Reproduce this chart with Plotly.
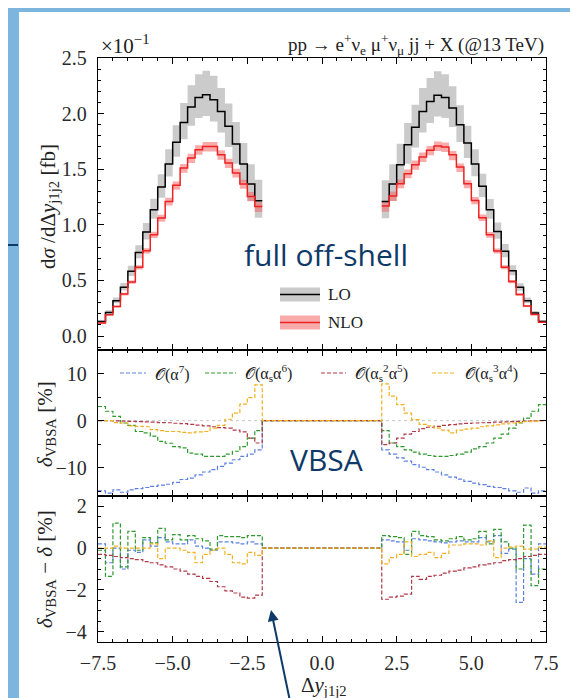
import numpy as np
import plotly.graph_objects as go
from plotly.subplots import make_subplots

# ---------------- data ----------------
BIN_WIDTH = 0.25
LEFT_START, LEFT_END = -7.5, -2.0
RIGHT_START, RIGHT_END = 2.0, 7.5
X_TICKS = [-7.5, -5.0, -2.5, 0.0, 2.5, 5.0, 7.5]

# top panel: d sigma / d Delta y  [x 1e-1 fb]
LO_L = [0.132, 0.213, 0.318, 0.440, 0.582, 0.752, 0.935, 1.136, 1.340, 1.547, 1.742,
        1.920, 2.060, 2.146, 2.170, 2.125, 2.020, 1.886, 1.727, 1.547, 1.367, 1.217]
LO_L_UP = [0.143, 0.232, 0.346, 0.478, 0.632, 0.817, 1.016, 1.234, 1.456, 1.680, 1.895,
           2.095, 2.255, 2.355, 2.385, 2.340, 2.230, 2.090, 1.925, 1.735, 1.545, 1.405]
LO_L_DN = [0.123, 0.198, 0.296, 0.409, 0.541, 0.699, 0.868, 1.054, 1.243, 1.435, 1.612,
           1.770, 1.890, 1.960, 1.978, 1.930, 1.830, 1.700, 1.550, 1.380, 1.215, 1.065]
LO_R = [1.211, 1.367, 1.540, 1.720, 1.877, 2.020, 2.110, 2.165, 2.146, 2.050, 1.900,
        1.736, 1.547, 1.346, 1.136, 0.941, 0.762, 0.587, 0.438, 0.318, 0.207, 0.132]
LO_R_UP = [1.400, 1.545, 1.730, 1.915, 2.080, 2.230, 2.320, 2.380, 2.355, 2.245, 2.075,
           1.890, 1.680, 1.460, 1.233, 1.022, 0.827, 0.637, 0.476, 0.346, 0.226, 0.144]
LO_R_DN = [1.060, 1.215, 1.375, 1.550, 1.695, 1.830, 1.915, 1.975, 1.960, 1.880, 1.745,
           1.600, 1.437, 1.250, 1.055, 0.875, 0.708, 0.546, 0.408, 0.296, 0.193, 0.123]

NLO_L = [0.117, 0.192, 0.267, 0.378, 0.486, 0.618, 0.767, 0.911, 1.061, 1.211, 1.355,
         1.511, 1.600, 1.675, 1.705, 1.705, 1.630, 1.556, 1.466, 1.367, 1.256, 1.166]
NLO_L_UP = [0.121, 0.198, 0.275, 0.389, 0.500, 0.636, 0.789, 0.937, 1.090, 1.243, 1.390,
            1.548, 1.640, 1.715, 1.745, 1.745, 1.670, 1.595, 1.505, 1.405, 1.295, 1.205]
NLO_L_DN = [0.112, 0.185, 0.258, 0.365, 0.470, 0.598, 0.742, 0.882, 1.028, 1.175, 1.315,
            1.468, 1.555, 1.630, 1.660, 1.660, 1.585, 1.512, 1.425, 1.325, 1.212, 1.115]
NLO_R = [1.170, 1.260, 1.370, 1.460, 1.540, 1.610, 1.670, 1.710, 1.700, 1.630, 1.520,
         1.370, 1.220, 1.065, 0.910, 0.765, 0.620, 0.490, 0.375, 0.270, 0.195, 0.125]
NLO_R_UP = [1.210, 1.300, 1.408, 1.497, 1.578, 1.650, 1.710, 1.750, 1.740, 1.665, 1.552,
            1.402, 1.250, 1.092, 0.935, 0.787, 0.638, 0.504, 0.386, 0.278, 0.201, 0.129]
NLO_R_DN = [1.118, 1.215, 1.328, 1.418, 1.495, 1.565, 1.625, 1.665, 1.655, 1.580, 1.475,
            1.330, 1.185, 1.034, 0.883, 0.742, 0.601, 0.475, 0.363, 0.261, 0.188, 0.120]

# middle panel: delta_VBSA [%]   (gap bin -2..2 is zero)
GAP = [0.0]
D_A7_L = [-14.9, -15.4, -14.7, -15.2, -14.7, -14.45, -14.2, -13.95, -13.7, -13.5, -13.1,
          -12.5, -12.2, -11.5, -10.9, -10.4, -9.7, -9.0, -8.3, -7.6, -7.1, -6.2]
D_A7_R = [-6.2, -7.1, -7.9, -8.6, -9.35, -9.9, -10.4, -10.9, -11.5, -12.0, -12.4,
          -12.9, -13.25, -13.6, -13.95, -14.2, -14.45, -14.9, -15.2, -14.3, -15.4, -14.9]
D_AS_L = [3.0, 2.0, 0.9, -0.5, -1.0, -2.3, -2.6, -3.3, -4.4, -4.8, -5.5,
          -5.8, -6.9, -7.1, -7.6, -7.6, -7.6, -7.1, -6.5, -5.5, -3.7, -2.1]
D_AS_R = [-2.1, -4.75, -5.5, -6.2, -6.7, -7.1, -7.4, -7.6, -7.6, -7.4, -7.1,
          -6.7, -6.0, -5.5, -4.75, -3.7, -2.85, -1.6, -0.5, 0.55, 2.0, 3.4]
D_AS2_L = [0.0, 0.0, -0.05, -0.1, -0.15, -0.2, -0.25, -0.3, -0.4, -0.45, -0.55,
           -0.65, -0.8, -0.95, -1.1, -1.3, -1.5, -1.6, -2.0, -2.4, -3.7, -4.75]
D_AS2_R = [-5.1, -4.75, -3.7, -2.85, -2.3, -1.7, -1.4, -1.2, -1.0, -0.86, -0.7,
           -0.6, -0.5, -0.45, -0.4, -0.3, -0.25, -0.2, -0.15, -0.1, -0.05, 0.0]
D_AS3_L = [0.0, 0.0, -0.4, -0.5, -1.1, -1.2, -1.3, -1.9, -2.1, -2.3, -2.3,
           -2.5, -2.6, -2.4, -2.3, -1.6, -1.0, 0.3, 1.6, 3.5, 4.9, 7.6]
D_AS3_R = [7.8, 5.2, 3.4, 1.6, 0.2, -0.8, -1.1, -1.6, -2.0, -2.6, -2.0,
           -1.8, -1.6, -1.3, -1.1, -0.9, -0.7, -0.5, -0.4, -0.2, -0.1, 0.0]

# bottom panel: delta_VBSA - delta [%]
R_A7_L = [0.2, -0.7, 0.0, -1.0, -0.1, -0.2, 0.4, 0.1, 0.5, 0.3, 0.2,
          0.2, 0.4, 0.1, 0.0, -0.1, 0.3, 0.3, 0.25, 0.2, 0.3, 0.2]
R_A7_R = [0.4, 0.35, 0.3, -0.1, 0.45, 0.4, 0.35, 0.3, 0.25, 0.3, 0.35,
          0.3, 0.3, 0.5, 0.3, 0.6, -0.25, -0.05, -2.6, -0.5, -1.25, 0.2]
R_AS_L = [-0.1, -1.35, 1.2, -0.9, 0.8, -0.1, 0.5, 0.25, 0.95, 0.4, 0.65,
          0.4, 0.6, 0.45, 0.35, -0.05, 0.6, 0.55, 0.55, 0.5, 0.6, 0.6]
R_AS_R = [0.6, 0.55, 0.5, -0.3, 0.8, 0.6, 0.55, 0.4, 0.35, 0.45, 0.55,
          0.4, 0.45, 0.8, 0.2, 0.9, 0.3, 0.0, -1.0, 1.1, -1.8, -1.0]
R_AS2_L = [-0.3, -0.35, -0.4, -0.45, -0.5, -0.55, -0.65, -0.7, -0.8, -0.9, -1.0,
           -1.1, -1.25, -1.35, -1.45, -1.6, -1.85, -2.05, -2.15, -2.35, -2.4, -2.25]
R_AS2_R = [-2.45, -2.35, -2.3, -2.2, -1.35, -1.5, -1.35, -1.3, -1.2, -1.1, -1.05,
           -0.95, -0.9, -0.8, -0.75, -0.7, -0.6, -0.55, -0.5, -0.4, -0.35, -0.3]
R_AS3_L = [0.0, 0.0, 0.1, 0.0, 0.0, 0.0, 0.0, 0.2, -0.5, 0.0, 0.0,
           -0.1, -0.2, -0.7, -0.3, -0.1, 0.0, -0.3, -0.7, -0.75, -0.2, -0.35]
R_AS3_R = [-0.75, -0.45, -0.3, 0.3, -0.4, -0.3, -0.2, -0.45, -0.25, 0.15, 0.15,
           0.2, 0.2, 0.15, 0.35, -0.45, 0.0, 0.05, 0.1, -0.05, -0.05, 0.05]

ORDER_LABELS = ["𝒪(α<sup>7</sup>)", "𝒪(α<sub>s</sub>α<sup>6</sup>)",
                "𝒪(α<sub>s</sub><sup>2</sup>α<sup>5</sup>)", "𝒪(α<sub>s</sub><sup>3</sup>α<sup>4</sup>)"]

# ---------------- style ----------------
SERIF = "Liberation Serif, DejaVu Serif, serif"
SANS = "Open Sans, Noto Sans, sans-serif"
NAVY = "#0f3a68"
SLIDE_BLUE = "#7cb5de"
ORDER_COLORS = ["#5b80e0", "#2e9a2e", "#b03a48", "#f2b01e"]
DASH = "4px,2px"

W, H = 578, 698
ML, MR, MT, MB = 90, 40, 50, 64
PW, PH = W - ML - MR, H - MT - MB


def PX(x):
    return (x - ML) / PW


def PY(y):
    return (H - MB - y) / PH


left_edges = np.round(np.arange(LEFT_START, LEFT_END + BIN_WIDTH / 2, BIN_WIDTH), 4)
right_edges = np.round(np.arange(RIGHT_START, RIGHT_END + BIN_WIDTH / 2, BIN_WIDTH), 4)
full_edges = np.concatenate([left_edges, right_edges])

fig = make_subplots(rows=3, cols=1, shared_xaxes=True, vertical_spacing=0.0,
                    row_heights=[0.5, 0.25, 0.25])


def add_step(edges, vals, row, **kw):
    x = list(edges)
    y = list(vals) + [vals[-1]]
    fig.add_trace(go.Scatter(x=x, y=y, mode="lines", line_shape="hv",
                             showlegend=False, hoverinfo="skip", **kw), row=row, col=1)


def add_band(edges, lo, hi, color, row):
    add_step(edges, lo, row, line=dict(width=0, color=color))
    add_step(edges, hi, row, line=dict(width=0, color=color), fill="tonexty", fillcolor=color)


GRAY_BAND = "#cbcbcb"
RED_BAND = "rgba(244,100,100,0.55)"

add_band(left_edges, LO_L_DN, LO_L_UP, GRAY_BAND, 1)
add_band(right_edges, LO_R_DN, LO_R_UP, GRAY_BAND, 1)
add_band(left_edges, NLO_L_DN, NLO_L_UP, RED_BAND, 1)
add_band(right_edges, NLO_R_DN, NLO_R_UP, RED_BAND, 1)
add_step(left_edges, LO_L, 1, line=dict(color="black", width=1.5))
add_step(right_edges, LO_R, 1, line=dict(color="black", width=1.5))
add_step(left_edges, NLO_L, 1, line=dict(color="#ee2222", width=1.5))
add_step(right_edges, NLO_R, 1, line=dict(color="#ee2222", width=1.5))

mid_series = [(D_A7_L, D_A7_R), (D_AS_L, D_AS_R), (D_AS2_L, D_AS2_R), (D_AS3_L, D_AS3_R)]
bot_series = [(R_A7_L, R_A7_R), (R_AS_L, R_AS_R), (R_AS2_L, R_AS2_R), (R_AS3_L, R_AS3_R)]
for (lv, rv), c in zip(mid_series, ORDER_COLORS):
    add_step(full_edges, list(lv) + GAP + list(rv), 2, line=dict(color=c, width=1.2, dash=DASH))
for (lv, rv), c in zip(bot_series, ORDER_COLORS):
    add_step(full_edges, list(lv) + GAP + list(rv), 3, line=dict(color=c, width=1.2, dash=DASH))

tickfont = dict(family=SERIF, size=20, color="#2a2a2a")
axis_common = dict(showline=True, linecolor="black", linewidth=1.3, mirror="allticks",
                   ticks="inside", ticklen=6, tickwidth=1, tickcolor="black",
                   showgrid=False, zeroline=False, tickfont=tickfont)

for r in (1, 2, 3):
    fig.update_xaxes(range=[-7.5, 7.5], tickvals=X_TICKS, tickformat=".1f",
                     minor=dict(ticks="inside", ticklen=3, dtick=0.5, tick0=-7.5,
                                tickcolor="black", showgrid=False),
                     showticklabels=(r == 3), ticklabelstandoff=3, row=r, col=1, **axis_common)

fig.update_yaxes(range=[-0.125, 2.5], tickvals=[0, 0.5, 1.0, 1.5, 2.0, 2.5], tickformat=".1f",
                 minor=dict(ticks="inside", ticklen=3, dtick=0.1, tick0=0, tickcolor="black",
                            showgrid=False),
                 ticklabelstandoff=6, row=1, col=1, **axis_common)
fig.update_yaxes(range=[-16, 15], tickvals=[-10, 0, 10],
                 minor=dict(ticks="inside", ticklen=3, dtick=5, tick0=0, tickcolor="black",
                            showgrid=False),
                 ticklabelstandoff=6, row=2, col=1, **axis_common)
fig.update_yaxes(range=[-4.5, 2.5], tickvals=[-4, -2, 0, 2],
                 minor=dict(ticks="inside", ticklen=3, dtick=0.5, tick0=0, tickcolor="black",
                            showgrid=False),
                 ticklabelstandoff=6, row=3, col=1, **axis_common)

shapes = []
# slide background: white panel
shapes.append(dict(type="rect", xref="paper", yref="paper", x0=PX(11), x1=PX(574),
                   y0=PY(4), y1=PY(705), fillcolor="white", line=dict(width=0), layer="below"))
shapes.append(dict(type="line", xref="paper", yref="paper", x0=PX(0), x1=PX(10),
                   y0=PY(237), y1=PY(237), line=dict(color=NAVY, width=2), layer="below"))
# zero reference line in the middle panel
shapes.append(dict(type="line", xref="x2 domain", yref="y2", x0=0, x1=1, y0=0, y1=0,
                   line=dict(color="#c4c4c4", width=1, dash="dot"), layer="below"))

# manual legend top panel
for yc, band, lc in [(286.5, GRAY_BAND, "black"), (314.5, RED_BAND, "#ee2222")]:
    shapes.append(dict(type="rect", xref="paper", yref="paper", x0=PX(272), x1=PX(312),
                       y0=PY(yc - 7), y1=PY(yc + 7), fillcolor=band, line=dict(width=0)))
    shapes.append(dict(type="line", xref="paper", yref="paper", x0=PX(272), x1=PX(312),
                       y0=PY(yc), y1=PY(yc), line=dict(color=lc, width=1.5)))

# manual legend middle panel
LEG_Y = 365
leg_samples = [(112, 138, 145), (197, 228, 235), (313, 338, 345), (424, 448, 455)]
annotations = []
for (x0, x1, xt), c, lab in zip(leg_samples, ORDER_COLORS, ORDER_LABELS):
    shapes.append(dict(type="line", xref="paper", yref="paper", x0=PX(x0), x1=PX(x1),
                       y0=PY(LEG_Y), y1=PY(LEG_Y), line=dict(color=c, width=1.2, dash=DASH)))
    annotations.append(dict(xref="paper", yref="paper", x=PX(xt), y=PY(LEG_Y), text=lab,
                            showarrow=False, xanchor="left", yanchor="middle",
                            font=dict(family=SERIF, size=16, color="#222")))

annotations += [
    dict(xref="paper", yref="paper", x=PX(318), y=PY(286.5), text="LO", showarrow=False,
         xanchor="left", yanchor="middle", font=dict(family=SERIF, size=17, color="#222")),
    dict(xref="paper", yref="paper", x=PX(318), y=PY(314.5), text="NLO", showarrow=False,
         xanchor="left", yanchor="middle", font=dict(family=SERIF, size=17, color="#222")),
    dict(xref="paper", yref="paper", x=PX(538), y=PY(36),
         text="pp → e<sup>+</sup>ν<sub>e</sub> μ<sup>+</sup>ν<sub>μ</sub> jj + X (@13 TeV)",
         showarrow=False, xanchor="right", yanchor="middle",
         font=dict(family=SERIF, size=19, color="#222")),
    dict(xref="paper", yref="paper", x=PX(91), y=PY(36), text="×10<sup>−1</sup>",
         showarrow=False, xanchor="left", yanchor="middle",
         font=dict(family=SERIF, size=21, color="#222")),
    dict(xref="paper", yref="paper", x=PX(41), y=PY(199),
         text="d<i>σ</i> /dΔ<i>y</i><sub>j1j2</sub> [fb]", textangle=-90,
         showarrow=False, xanchor="center", yanchor="middle",
         font=dict(family=SERIF, size=21, color="#222")),
    dict(xref="paper", yref="paper", x=PX(38), y=PY(416),
         text="<i>δ</i><sub>VBSA</sub> [%]", textangle=-90,
         showarrow=False, xanchor="center", yanchor="middle",
         font=dict(family=SERIF, size=21, color="#222")),
    dict(xref="paper", yref="paper", x=PX(38), y=PY(561),
         text="<i>δ</i><sub>VBSA</sub> − <i>δ</i> [%]", textangle=-90,
         showarrow=False, xanchor="center", yanchor="middle",
         font=dict(family=SERIF, size=21, color="#222")),
    dict(xref="paper", yref="paper", x=PX(316), y=PY(678),
         text="Δ<i>y</i><sub>j1j2</sub>", showarrow=False, xanchor="center", yanchor="middle",
         font=dict(family=SERIF, size=21, color="#222")),
    dict(xref="paper", yref="paper", x=PX(318), y=PY(247), text="full off-shell",
         showarrow=False, xanchor="center", yanchor="middle",
         font=dict(family=SANS, size=30, color=NAVY)),
    dict(xref="paper", yref="paper", x=PX(318), y=PY(451), text="VBSA",
         showarrow=False, xanchor="center", yanchor="middle",
         font=dict(family=SANS, size=30, color=NAVY)),
    dict(xref="paper", yref="paper", x=PX(263), y=PY(602), text="", showarrow=True,
         ax=20, ay=100, axref="pixel", ayref="pixel", arrowhead=2, arrowsize=1.1,
         arrowwidth=2, arrowcolor=NAVY, standoff=0),
]

fig.update_layout(width=W, height=H, margin=dict(l=ML, r=MR, t=MT, b=MB),
                  paper_bgcolor=SLIDE_BLUE, plot_bgcolor="white", showlegend=False,
                  shapes=shapes, annotations=annotations,
                  font=dict(family=SERIF, color="#222"))

fig.write_html("out.html")
